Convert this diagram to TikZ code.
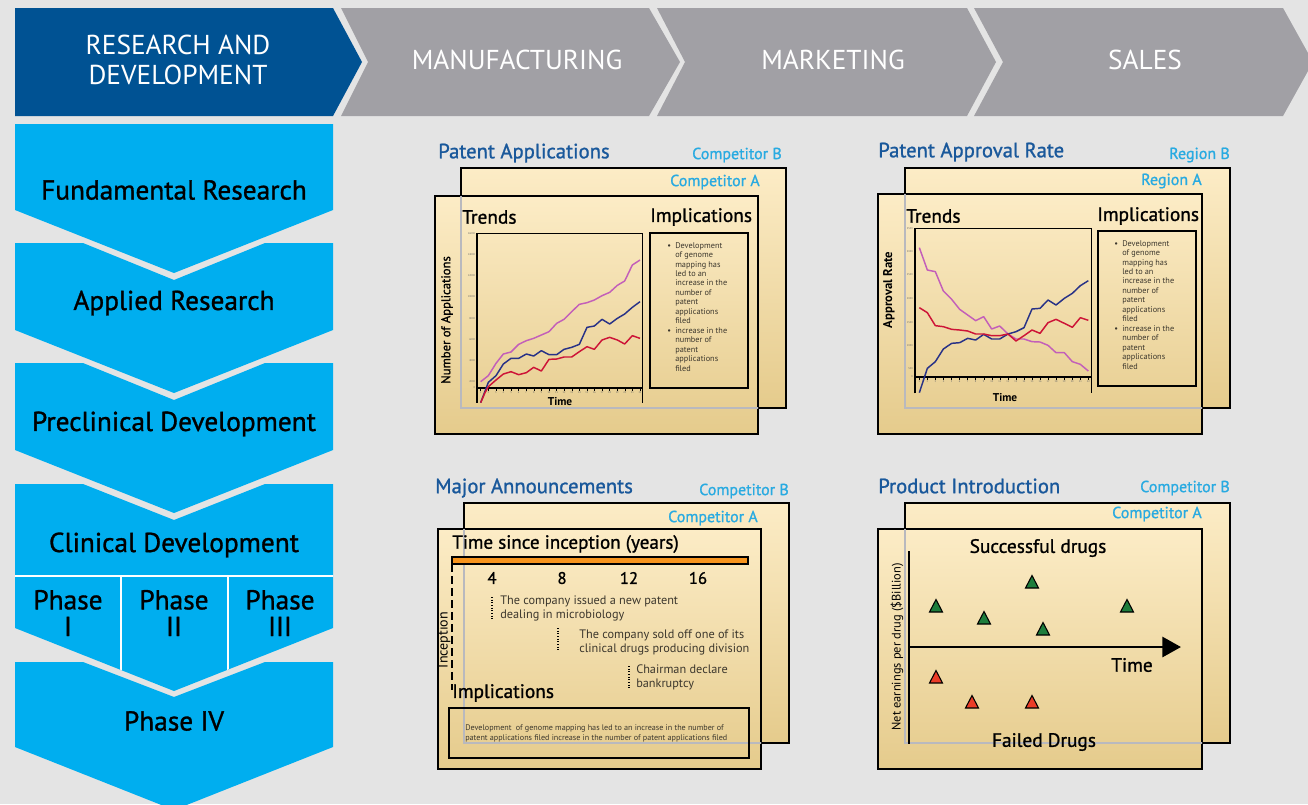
\documentclass[tikz,border=0pt]{standalone}
\usepackage{fontspec}
\setmainfont{PT Sans}
\newfontfamily\medf[FakeBold=1.1]{PT Sans}
\usetikzlibrary{arrows.meta}
\definecolor{bg}{RGB}{228,228,228}
\definecolor{rdblue}{RGB}{0,82,147}
\definecolor{hgray}{RGB}{161,160,165}
\definecolor{cyanb}{RGB}{0,174,239}
\definecolor{titleblue}{RGB}{25,88,155}
\definecolor{compblue}{RGB}{40,170,225}
\definecolor{creamtop}{RGB}{252,236,198}
\definecolor{creambot}{RGB}{229,203,140}
\definecolor{ghostgray}{RGB}{185,185,190}
\definecolor{lmag}{RGB}{195,95,185}
\definecolor{lnavy}{RGB}{40,50,135}
\definecolor{lred}{RGB}{205,20,55}
\definecolor{orng}{RGB}{247,148,29}
\definecolor{tgreen}{RGB}{30,125,60}
\definecolor{tred}{RGB}{235,60,40}
\definecolor{darktxt}{RGB}{60,55,45}
\newcommand{\fsz}[2]{\fontsize{#1}{#2}\selectfont}
\newcommand{\bulA}{\makebox[6pt][l]{\textbullet}}
\newcommand{\indA}{\hspace*{6pt}}
\tikzset{
  hdr/.style={text=white,font=\fsz{20.5}{22.5},align=center,inner sep=0},
  lft/.style={text=black,font=\medf\fsz{20.5}{20.5},align=center,inner sep=0},
  ttl/.style={text=titleblue,font=\medf\fsz{15.5}{17},anchor=west,inner sep=0},
  comp/.style={text=compblue,font=\medf\fsz{12}{13},anchor=east,inner sep=0},
  sub/.style={font=\medf\fsz{14.5}{16},anchor=west,inner sep=0},
  paper/.style={top color=creamtop,bottom color=creambot,draw=black,line width=1.5pt},
  ghost/.style={draw=ghostgray,line width=1.5pt},
  bul/.style={font=\fsz{6.2}{7.1},text=darktxt,align=left,inner sep=0,anchor=north west},
  tick/.style={font=\fsz{2}{2.2},text=black!60,inner sep=0},
  ser/.style={line width=1.1pt,line join=round},
  evt/.style={font=\fsz{9.2}{10.5},text=darktxt,align=left,anchor=west,inner sep=0},
  ylab/.style={font=\medf\fsz{9.5}{10},rotate=90,inner sep=0},
  big/.style={font=\medf\fsz{14.5}{16},inner sep=0},
  num/.style={font=\medf\fsz{12.5}{14},inner sep=0},
  tri/.style={draw=black,line width=0.8pt,line join=miter}
}
\begin{document}
\begin{tikzpicture}[x=0.75pt,y=-0.75pt]
\fill[bg] (0,0) rectangle (1308,804);
\useasboundingbox (0,0) rectangle (1308,804);

% ---------------- header chevrons ----------------
\fill[rdblue] (15,8) -- (333,8) -- (362,62) -- (333,116) -- (15,116) -- cycle;
\fill[hgray] (341,8) -- (649,8) -- (680,62) -- (649,116) -- (341,116) -- (368,62) -- cycle;
\fill[hgray] (657,8) -- (967,8) -- (996,62) -- (967,116) -- (657,116) -- (685,62) -- cycle;
\fill[hgray] (974,8) -- (1283,8) -- (1313,62) -- (1283,116) -- (974,116) -- (1003,62) -- cycle;
\node[hdr] (hrd) at (178,60) {RESEARCH AND\\DEVELOPMENT};
\node[hdr] (hman) at (517,60) {MANUFACTURING};
\node[hdr] (hmkt) at (833,60) {MARKETING};
\node[hdr] (hsal) at (1145,60) {SALES};

% ---------------- left column ----------------
\fill[cyanb] (15,124) -- (333,124) -- (333,210) -- (174,273) -- (15,210) -- cycle;
\fill[cyanb] (15,243) -- (83,243) -- (174,280) -- (265,243) -- (333,243) -- (333,330) -- (174,393) -- (15,330) -- cycle;
\fill[cyanb] (15,363) -- (83,363) -- (174,400) -- (265,363) -- (333,363) -- (333,450) -- (174,513) -- (15,450) -- cycle;
\begin{scope}
\clip (15,484) -- (83,484) -- (174,520) -- (265,484) -- (333,484) -- (333,628) -- (174,691) -- (15,628) -- cycle;
\fill[cyanb] (0,480) rectangle (340,700);
\draw[white,line width=2pt] (10,576) -- (340,576);
\draw[white,line width=2pt] (121,576) -- (121,700);
\draw[white,line width=2pt] (228,576) -- (228,700);
\end{scope}
\fill[cyanb] (15,662) -- (83,662) -- (174,697) -- (265,662) -- (333,662) -- (333,747) -- (174,810) -- (15,747) -- cycle;
\node[lft] (fund) at (174,190) {Fundamental Research};
\node[lft] (appl) at (174,303) {Applied Research};
\node[lft] (prec) at (174,424) {Preclinical Development};
\node[lft] (clin) at (174,545) {Clinical Development};
\node[lft,font=\medf\fsz{20.5}{20}] (ph1) at (68,613) {Phase\\I};
\node[lft,font=\medf\fsz{20.5}{20}] (ph2) at (174,613) {Phase\\II};
\node[lft,font=\medf\fsz{20.5}{20}] (ph3) at (280,613) {Phase\\III};
\node[lft] (ph4) at (174,721) {Phase IV};

% ================= Panel 1: Patent Applications =================
\node[ttl] (t1) at (438,153) {Patent Applications};
\node[comp] (c1b) at (782,155) {Competitor B};
\path[paper] (461,168) rectangle (786,408);
\node[comp] (c1a) at (760,182) {Competitor A};
\path[paper] (435,196) rectangle (758,434);
\begin{scope}
\clip (435,196) rectangle (758,434);
\draw[ghost] (461,168) rectangle (786,408);
\end{scope}
\node[sub] (tr1) at (462,217) {Trends};
\node[sub] (im1) at (650,217) {Implications};
\node[ylab] (yl1) at (447,320) {Number of Applications};
\node[font=\bfseries\fsz{8.5}{10},inner sep=0] (ti1) at (560,402) {Time};
\draw[line width=1.3pt] (650,233) rectangle (748,388);
\node[bul] (b1) at (667,242) {\bulA Development\\\indA of genome\\\indA mapping has\\\indA led to an\\\indA increase in the\\\indA number of\\\indA patent\\\indA applications\\\indA filed\\\bulA increase in the\\\indA number of\\\indA patent\\\indA applications\\\indA filed};
\begin{scope}[shift={(460,220)},x=0.25pt,y=-0.25pt]
  \draw[line width=0.6pt] (52,40) -- (548,40) -- (548,548);
  \draw[line width=1.4pt] (52,548) -- (52,40);
  \draw[line width=1.4pt] (52,503) -- (548,503);
  \foreach \i in {1,...,22} {
    \pgfmathsetmacro{\xx}{62+22.76*(\i-1)}
    \draw[line width=0.3pt] (\xx,503) -- (\xx,512);
    \node[tick] (p1x\i) at (\xx,518) {\i};
  }
  \foreach \v/\yy in {16000/40,14000/105,12000/167,10000/230,8000/296,6000/359,4000/422,2000/485,0/503}
    \node[tick,anchor=east] (p1y\v) at (46,\yy) {\v};
  \draw[ser,lmag] plot coordinates {(62,485)(85,467)(108,430)(130,402)(153,396)(176,373)(199,362)(221,355)(244,345)(267,335)(290,310)(312,298)(335,275)(358,253)(381,248)(403,240)(426,227)(449,217)(472,196)(494,183)(517,135)(540,120)};
  \draw[ser,lnavy] plot coordinates {(62,548)(85,487)(108,467)(130,432)(153,415)(176,415)(199,402)(221,408)(244,392)(267,404)(290,404)(312,388)(335,382)(358,373)(381,322)(403,318)(426,298)(449,312)(472,295)(494,282)(517,262)(540,245)};
  \draw[ser,lred] plot coordinates {(62,548)(75,518)(85,500)(108,480)(130,462)(153,455)(176,464)(199,458)(221,442)(244,453)(267,418)(290,417)(312,411)(335,411)(358,395)(381,380)(403,388)(426,360)(449,352)(472,360)(494,372)(517,347)(540,355)};
\end{scope}

% ================= Panel 2: Patent Approval Rate =================
\node[ttl] (t2) at (878,152) {Patent Approval Rate};
\node[comp] (c2b) at (1230,155) {Region B};
\path[paper] (905,168) rectangle (1230,408);
\node[comp] (c2a) at (1202,181) {Region A};
\path[paper] (878,194) rectangle (1202,434);
\begin{scope}
\clip (878,194) rectangle (1202,434);
\draw[ghost] (905,168) rectangle (1230,408);
\end{scope}
\node[sub] (tr2) at (906,216) {Trends};
\node[sub] (im2) at (1097,216) {Implications};
\node[ylab,font=\bfseries\fsz{9.5}{10}] (yl2) at (889,290) {Approval Rate};
\node[font=\bfseries\fsz{8.5}{10},inner sep=0] (ti2) at (1005,398) {Time};
\draw[line width=1.3pt] (1098,231) rectangle (1196,386);
\node[bul] (b2) at (1114,240) {\bulA Development\\\indA of genome\\\indA mapping has\\\indA led to an\\\indA increase in the\\\indA number of\\\indA patent\\\indA applications\\\indA filed\\\bulA increase in the\\\indA number of\\\indA patent\\\indA applications\\\indA filed};
\begin{scope}[shift={(870,140)},x=0.25pt,y=-0.25pt]
  \draw[line width=0.6pt] (135,265) -- (665,265) -- (665,760);
  \draw[line width=1.4pt] (135,760) -- (135,265);
  \draw[line width=1.4pt] (135,710) -- (665,710);
  \foreach \i in {1,...,22} {
    \pgfmathsetmacro{\xx}{148+24.14*(\i-1)}
    \draw[line width=0.3pt] (\xx,710) -- (\xx,719);
    \node[tick] (p2x\i) at (\xx,726) {\i};
  }
  \foreach \v/\yy in {3500/265,3000/335,2500/405,2000/477,1500/547,1000/617,500/687,0/710}
    \node[tick,anchor=east] (p2y\v) at (129,\yy) {\v};
  \draw[ser,lmag] plot coordinates {(148,323)(172,390)(196,395)(220,453)(245,478)(269,508)(293,525)(317,542)(341,530)(365,567)(389,558)(414,582)(438,597)(462,597)(486,605)(510,606)(534,616)(558,638)(583,638)(607,665)(631,673)(655,693)};
  \draw[ser,lnavy] plot coordinates {(148,758)(172,685)(196,665)(220,627)(245,610)(269,608)(293,595)(317,600)(341,583)(365,597)(389,597)(414,582)(438,575)(462,563)(486,507)(510,505)(534,480)(558,495)(583,475)(607,460)(631,437)(655,422)};
  \draw[ser,lred] plot coordinates {(148,503)(172,518)(196,557)(220,560)(245,568)(269,570)(293,573)(317,582)(341,582)(365,587)(389,587)(414,582)(438,603)(462,587)(486,570)(510,580)(534,548)(558,538)(583,550)(607,562)(631,533)(655,541)};
\end{scope}

% ================= Panel 3: Major Announcements =================
\node[ttl] (t3) at (435,488) {Major Announcements};
\node[comp] (c3b) at (789,491) {Competitor B};
\path[paper] (464,503) rectangle (789,743);
\node[comp] (c3a) at (758,518) {Competitor A};
\path[paper] (438,529) rectangle (761,769);
\begin{scope}
\clip (438,529) rectangle (761,769);
\draw[ghost] (464,503) rectangle (789,743);
\end{scope}
\node[sub,font=\medf\fsz{14.3}{16}] (tsi) at (452,544) {Time since inception (years)};
\draw[fill=orng,line width=1.1pt] (452,557) rectangle (748,564);
\node[num] (n4) at (492,578) {4};
\node[num] (n8) at (562,578) {8};
\node[num] (n12) at (629,578) {12};
\node[num] (n16) at (698,578) {16};
\coordinate (inc0) at (452,564);
\coordinate (inc1) at (452,690);
\draw[line width=1.3pt,dash pattern=on 6pt off 3pt] (inc0) -- (inc1);
\node[ylab,font=\fsz{10.5}{11}] (incl) at (444,640) {Inception};
\coordinate (d1a) at (492,597); \coordinate (d1b) at (492,620);
\coordinate (d2a) at (558,628); \coordinate (d2b) at (558,651);
\coordinate (d3a) at (629,666); \coordinate (d3b) at (629,689);
\draw[line width=0.9pt,dash pattern=on 0.8pt off 1.2pt] (d1a) -- (d1b);
\draw[line width=0.9pt,dash pattern=on 0.8pt off 1.2pt] (d2a) -- (d2b);
\draw[line width=0.9pt,dash pattern=on 0.8pt off 1.2pt] (d3a) -- (d3b);
\node[evt] (e1) at (500,608) {The company issued a new patent\\dealing in microbiology};
\node[evt] (e2) at (579,642) {The company sold off one of its\\clinical drugs producing division};
\node[evt] (e3) at (636,677) {Chairman declare\\bankruptcy};
\node[sub] (im3) at (452,693) {Implications};
\draw[line width=1.3pt] (449,708) rectangle (749,758);
\node[font=\fsz{6.1}{7.5},text=darktxt,align=left,anchor=west,inner sep=0] (it3) at (465,733) {Development\ \ of genome mapping has led to an increase in the number of\\patent applications filed increase in the number of patent applications filed};

% ================= Panel 4: Product Introduction =================
\node[ttl] (t4) at (878,486) {Product Introduction};
\node[comp] (c4b) at (1230,488) {Competitor B};
\path[paper] (905,503) rectangle (1230,743);
\node[comp] (c4a) at (1202,514) {Competitor A};
\path[paper] (878,529) rectangle (1202,769);
\begin{scope}
\clip (878,529) rectangle (1202,769);
\draw[ghost] (905,503) rectangle (1230,743);
\end{scope}
\coordinate (ya0) at (909,551);
\coordinate (ya1) at (909,744);
\draw[line width=1.5pt] (ya0) -- (ya1);
\coordinate (xa0) at (909,647);
\coordinate (xa1) at (1181,647);
\draw[line width=2.2pt,-{Triangle[length=14pt,width=15pt]}] (xa0) -- (xa1);
\node[big] (sd) at (1038,548) {Successful drugs};
\node[big] (tm4) at (1132,665) {Time};
\node[big] (fd) at (1044,742) {Failed Drugs};
\node[ylab,font=\fsz{9.3}{10}] (yl4) at (897,647) {Net earnings per drug (\$Billion)};
\foreach \cx/\cy in {936/606,984/618,1032/582,1043/629,1127/606}
  \draw[tri,fill=tgreen] (\cx-6.5,\cy+6) -- (\cx+6.5,\cy+6) -- (\cx,\cy-6.5) -- cycle;
\foreach \cx/\cy in {936/677,972/702,1032/702}
  \draw[tri,fill=tred] (\cx-6.5,\cy+6) -- (\cx+6.5,\cy+6) -- (\cx,\cy-6.5) -- cycle;
\end{tikzpicture}
\end{document}
